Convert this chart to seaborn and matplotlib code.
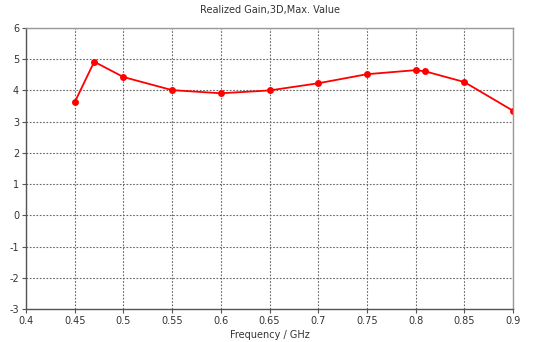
import pandas as pd
import seaborn as sns
import matplotlib
matplotlib.use("Agg")
import matplotlib.pyplot as plt

# Realized gain values
freq_ghz = [0.45, 0.47, 0.5, 0.55, 0.6, 0.65, 0.7, 0.75, 0.8, 0.81, 0.85, 0.9]
gain = [3.62, 4.92, 4.43, 4.01, 3.91, 4.0, 4.23, 4.52, 4.65, 4.61, 4.27, 3.35]
x_ticks = [0.4, 0.45, 0.5, 0.55, 0.6, 0.65, 0.7, 0.75, 0.8, 0.85, 0.9]
y_ticks = [-3, -2, -1, 0, 1, 2, 3, 4, 5, 6]

df = pd.DataFrame({"freq": freq_ghz, "gain": gain})

sns.set_style("white")
plt.rcParams["font.family"] = ["DejaVu Sans"]
plt.rcParams["axes.unicode_minus"] = False

fig = plt.figure(figsize=(5.33, 3.42), dpi=100)
ax = fig.add_axes([26 / 533, 1 - 309 / 342, 487 / 533, 281 / 342])

sns.lineplot(data=df, x="freq", y="gain", color="#ff0000", linewidth=1.3,
             marker="o", markersize=5, markeredgewidth=0, ax=ax)

ax.set_xlim(0.4, 0.9)
ax.set_ylim(-3, 6)
ax.set_xticks(x_ticks)
ax.set_xticklabels([f"{t:g}" for t in x_ticks])
ax.set_yticks(y_ticks)
ax.grid(True, linestyle=(0, (1.5, 1.5)), color="#666666", linewidth=0.8)
ax.tick_params(axis="both", labelsize=7, length=3, direction="out",
               color="#555555", labelcolor="#333333", bottom=True, left=True, pad=2)
for s in ax.spines.values():
    s.set_color("#999999")
    s.set_linewidth(1)
ax.spines["left"].set_color("#555555")
ax.spines["bottom"].set_color("#555555")

ax.set_title("Realized Gain,3D,Max. Value", fontsize=7, pad=11, color="#333333")
ax.set_xlabel("Frequency / GHz", fontsize=7, labelpad=3, color="#333333")
ax.set_ylabel("")

fig.savefig("out.png", dpi=100)
